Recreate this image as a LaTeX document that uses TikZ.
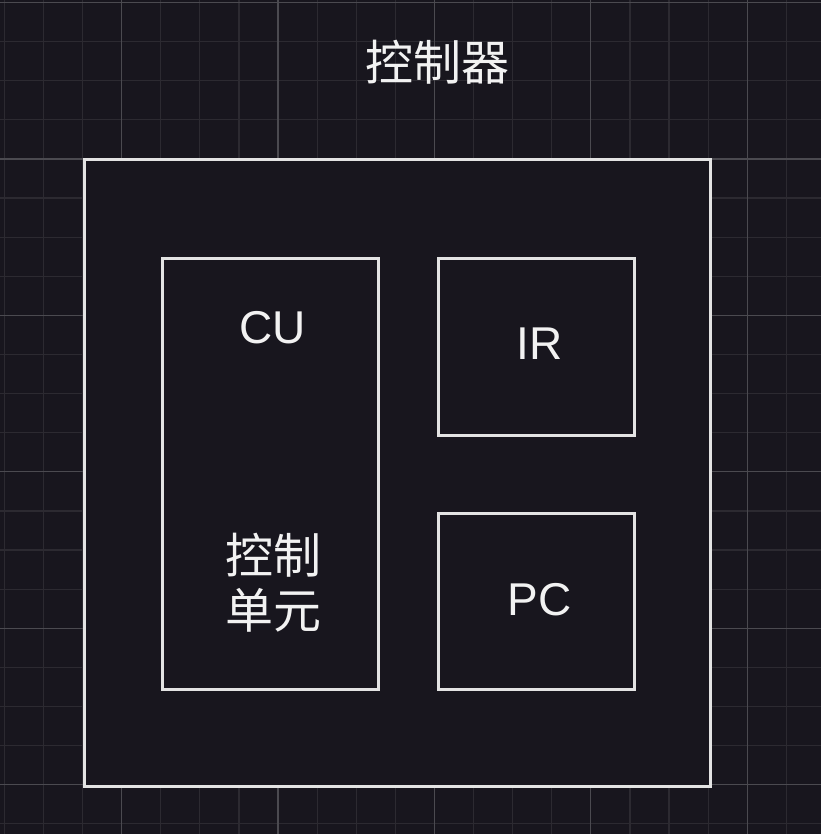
\documentclass[tikz,border=0pt]{standalone}
\usepackage{fontspec}
\setmainfont{Liberation Sans}
\newfontfamily\cjk{Noto Sans CJK SC}
\definecolor{canvas}{HTML}{18161E}
\definecolor{gridminor}{HTML}{2C2A31}
\definecolor{gridmajor}{HTML}{4B4A50}
\definecolor{edge}{HTML}{E3E3E3}
\definecolor{ink}{HTML}{F2F2F2}
\tikzset{
	box/.style = {draw = edge, line width = 3pt, fill = canvas, inner sep = 0pt},
	txt/.style = {text = ink, inner sep = 0pt, font = \fontsize{46}{55}\selectfont},
	cjktxt/.style = {text = ink, inner sep = 0pt, align = center, font = \cjk\fontsize{48}{55}\selectfont}
}
\begin{document}
\begin{tikzpicture}[x = 1pt, y = -1pt]
					\fill [canvas] (0, 0) rectangle (821, 834);
					\useasboundingbox (0, 0) rectangle (821, 834);

					% grid
					\foreach \i in {0,...,20} {
						\pgfmathsetmacro\gx{4.3 + 39.1*\i}
						\draw [gridminor, line width = 1.2pt] (\gx, 0) -- (\gx, 834);
					}
					\foreach \j in {0,...,21} {
						\pgfmathsetmacro\gy{2.6 + 39.1*\j}
						\draw [gridminor, line width = 1.2pt] (0, \gy) -- (821, \gy);
					}
					\foreach \i in {3, 7, 11, 15, 19} {
						\pgfmathsetmacro\gx{4.3 + 39.1*\i}
						\draw [gridmajor, line width = 1.2pt] (\gx, 0) -- (\gx, 834);
					}
					\foreach \j in {0, 4, 8, 12, 16, 20} {
						\pgfmathsetmacro\gy{2.6 + 39.1*\j}
						\draw [gridmajor, line width = 1.2pt] (0, \gy) -- (821, \gy);
					}

					\node [box, minimum width = 626pt, minimum height = 626pt] (ctrl) at (397, 473) {};
					\node [box, minimum width = 216pt, minimum height = 431pt] (cu) at (270, 473.5) {};
					\node [box, minimum width = 196pt, minimum height = 177pt] (ir) at (536, 346.5) {};
					\node [box, minimum width = 196pt, minimum height = 176pt] (pc) at (536, 601) {};

					\node [cjktxt] (ctrltext) at (437, 62) {控制器};
					\node [txt] (cutext) at (272.5, 328) {CU};
					\node [cjktxt] (cuname) at (273, 583) {控制\\单元};
					\node [txt] (irtext) at (539.5, 344) {IR};
					\node [txt] (pctext) at (539.7, 600) {PC};
				\end{tikzpicture}
\end{document}
